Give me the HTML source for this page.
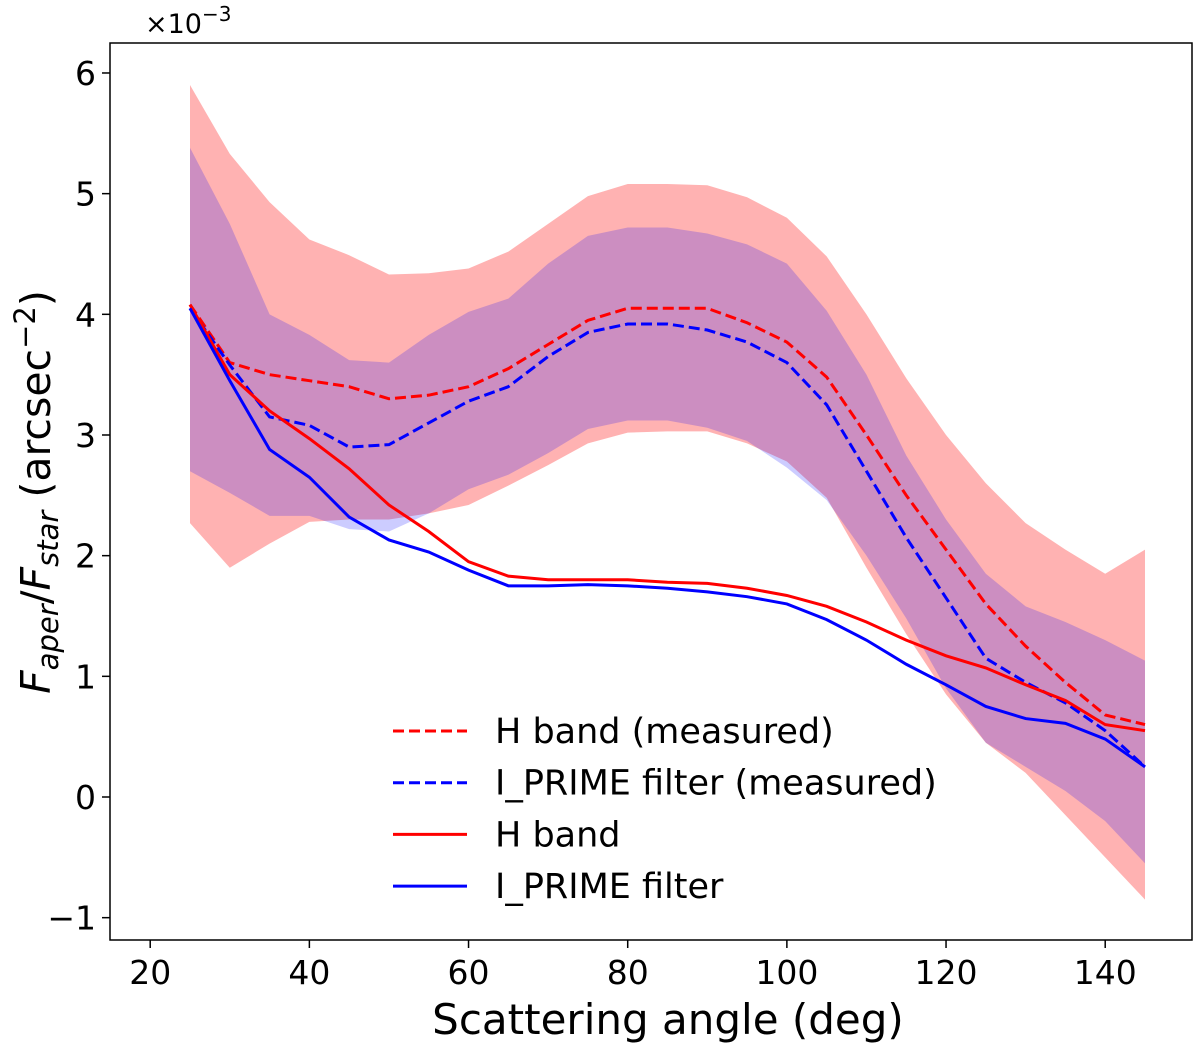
<!DOCTYPE html>
<html><head><meta charset="utf-8"><style>
body{margin:0;background:#fff}
svg text{font-family:"DejaVu Sans","Liberation Sans",sans-serif;fill:#000}
</style></head><body>
<svg width="1200" height="1048" viewBox="0 0 1200 1048">
<g id="bands"></g>
<g id="lines"></g>
<rect x="110" y="43" width="1082" height="897" fill="none" stroke="#000" stroke-width="1.5"/>
<g id="xticks"></g>
<g id="yticks"></g>
<text x="145" y="33" font-size="27">×10<tspan dy="-12" font-size="20">−3</tspan></text>
<text x="668" y="1034" font-size="42" text-anchor="middle">Scattering angle (deg)</text>
<text transform="translate(50,492) rotate(-90)" font-size="41" text-anchor="middle"><tspan font-style="italic">F</tspan><tspan font-style="italic" font-size="29" dy="8">aper</tspan><tspan dy="-8">/</tspan><tspan font-style="italic">F</tspan><tspan font-style="italic" font-size="29" dy="8">star</tspan><tspan dy="-8"> (arcsec</tspan><tspan font-size="29" dy="-15">−2</tspan><tspan dy="15">)</tspan></text>
<g id="legend"></g>
</svg>
<script>
const angles=[25,30,35,40,45,50,55,60,65,70,75,80,85,90,95,100,105,110,115,120,125,130,135,140,145];
const hMeasured=[4.08,3.6,3.5,3.45,3.4,3.3,3.33,3.4,3.55,3.75,3.95,4.05,4.05,4.05,3.93,3.77,3.48,3.0,2.5,2.05,1.6,1.25,0.95,0.68,0.6];
const iMeasured=[4.05,3.58,3.15,3.08,2.9,2.92,3.1,3.28,3.4,3.65,3.85,3.92,3.92,3.87,3.77,3.6,3.25,2.7,2.15,1.65,1.15,0.95,0.78,0.55,0.25];
const hModel=[4.08,3.5,3.2,2.97,2.72,2.42,2.2,1.95,1.83,1.8,1.8,1.8,1.78,1.77,1.73,1.67,1.58,1.45,1.3,1.17,1.07,0.93,0.8,0.6,0.55];
const iModel=[4.05,3.45,2.88,2.65,2.32,2.13,2.03,1.88,1.75,1.75,1.76,1.75,1.73,1.7,1.66,1.6,1.47,1.3,1.1,0.93,0.75,0.65,0.61,0.48,0.25];
const hUpper=[5.9,5.33,4.93,4.62,4.49,4.33,4.34,4.38,4.52,4.75,4.98,5.08,5.08,5.07,4.97,4.8,4.48,4.0,3.47,3.0,2.6,2.27,2.05,1.85,2.05];
const hLower=[2.27,1.9,2.1,2.28,2.3,2.3,2.35,2.42,2.58,2.75,2.93,3.02,3.03,3.03,2.93,2.78,2.48,1.9,1.35,0.85,0.45,0.2,-0.15,-0.5,-0.85];
const iUpper=[5.38,4.75,4.0,3.83,3.62,3.6,3.83,4.02,4.13,4.42,4.65,4.72,4.72,4.67,4.58,4.42,4.03,3.5,2.83,2.3,1.85,1.58,1.45,1.3,1.13];
const iLower=[2.7,2.52,2.33,2.33,2.22,2.2,2.35,2.55,2.67,2.85,3.05,3.12,3.12,3.06,2.95,2.73,2.46,2.0,1.48,0.9,0.45,0.25,0.05,-0.2,-0.55];
const xTicks=[20,40,60,80,100,120,140];
const yTicks=[-1,0,1,2,3,4,5,6];
const yTickLabels=["−1","0","1","2","3","4","5","6"];
const NS="http://www.w3.org/2000/svg";
const X=v=>190+(v-25)*(1145-190)/120;
const Y=v=>797-v*120.67;
function mk(t,a,p){const e=document.createElementNS(NS,t);for(const k in a)e.setAttribute(k,a[k]);p.appendChild(e);return e;}
const bands=document.getElementById('bands'),lines=document.getElementById('lines');
function band(up,lo,fill,op,name){
  let d=angles.map((a,i)=>(i?'L':'M')+X(a)+','+Y(up[i])).join('');
  for(let i=angles.length-1;i>=0;i--)d+='L'+X(angles[i])+','+Y(lo[i]);
  const p=mk('path',{d:d+'Z',fill:fill,'fill-opacity':op},bands);
  
  
}
band(hUpper,hLower,'#ff0000',0.3,'h-band-range');
band(iUpper,iLower,'#0000ff',0.2,'i-prime-range');
function line(vals,col,dash,name){
  const d=angles.map((a,i)=>(i?'L':'M')+X(a)+','+Y(vals[i])).join('');
  const p=mk('path',{d:d,fill:'none',stroke:col,'stroke-width':3,'stroke-dasharray':dash?'11,5':'none'},lines);
  
  
}
line(hMeasured,'#ff0000',true,'h-band-measured-line');
line(iMeasured,'#0000ff',true,'i-prime-measured-line');
line(hModel,'#ff0000',false,'h-band-line');
line(iModel,'#0000ff',false,'i-prime-line');
const xg=document.getElementById('xticks');
xTicks.forEach(v=>{
  const l=mk('line',{x1:X(v),x2:X(v),y1:940,y2:948,stroke:'#000','stroke-width':1.5},xg);
  
  
  const t=mk('text',{x:X(v),y:984,'font-size':33,'text-anchor':'middle'},xg);
  t.textContent=v;
  
  
});
const yg=document.getElementById('yticks');
yTicks.forEach((v,i)=>{
  const l=mk('line',{x1:102,x2:110,y1:Y(v),y2:Y(v),stroke:'#000','stroke-width':1.5},yg);
  
  
  const t=mk('text',{x:96,y:Y(v)+12,'font-size':33,'text-anchor':'end'},yg);
  t.textContent=yTickLabels[i];
  
  
});
const lg=document.getElementById('legend');
const legendLabels=["H band (measured)","I_PRIME filter (measured)","H band","I_PRIME filter"];
const legendColors=['#ff0000','#0000ff','#ff0000','#0000ff'];
const legendDashed=[true,true,false,false];
legendLabels.forEach((s,i)=>{
  const y=731+i*51.7;
  const l=mk('line',{x1:393,x2:467,y1:y,y2:y,stroke:legendColors[i],'stroke-width':3,'stroke-dasharray':legendDashed[i]?'11,5':'none'},lg);
  
  
  const t=mk('text',{x:495,y:y+12,'font-size':35},lg);
  t.textContent=s;
  
  
});
</script>
</body></html>
